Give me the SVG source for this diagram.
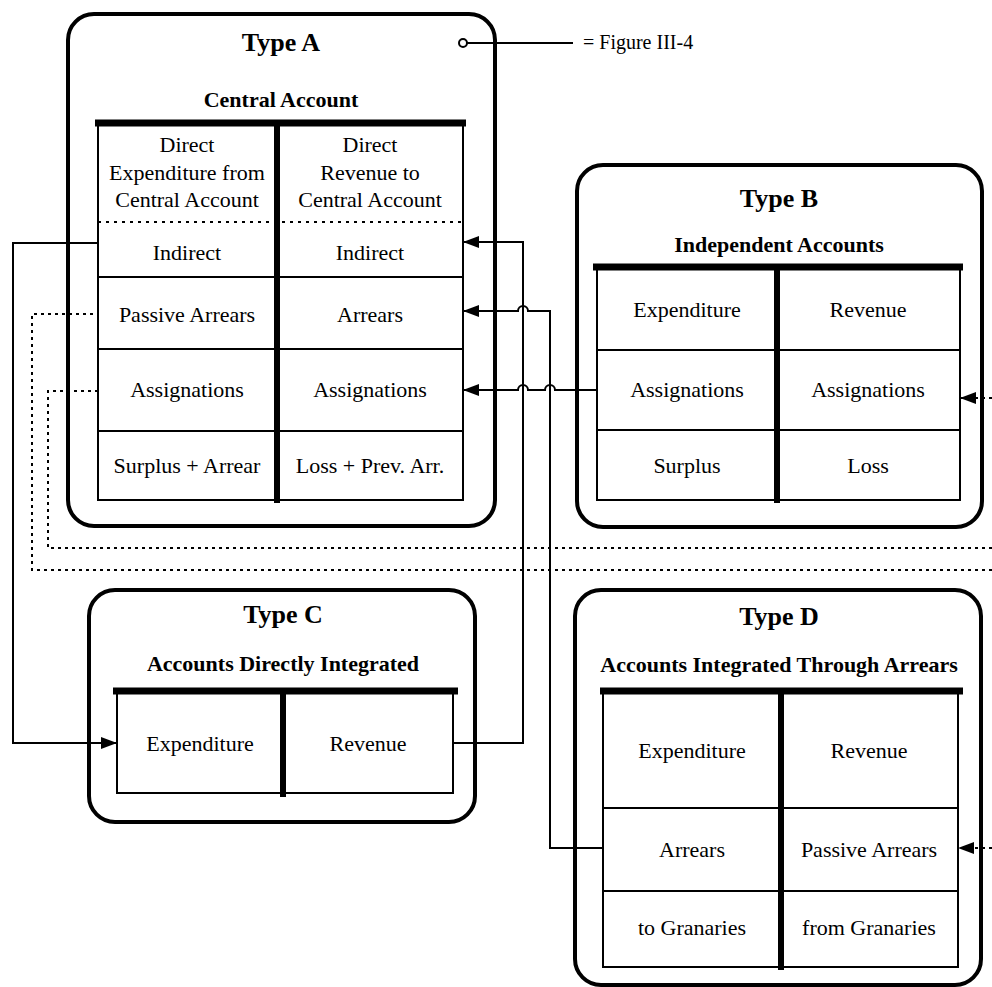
<svg xmlns="http://www.w3.org/2000/svg" width="992" height="987" viewBox="0 0 992 987">
  <style>
    text { font-family: "Liberation Serif", "Times New Roman", serif; fill: #000; text-anchor: middle; }
    .title { font-size: 26px; font-weight: bold; }
    .sub { font-size: 22px; font-weight: bold; }
    .cell { font-size: 22px; }
    .legend { font-size: 20px; text-anchor: start; }
    .frame { fill: none; stroke: #000; stroke-width: 4; }
    .grid { fill: none; stroke: #000; stroke-width: 2; }
    .bar { stroke: #000; stroke-width: 7; }
    .mid { stroke: #000; stroke-width: 6; }
    .sep { stroke: #000; stroke-width: 2; stroke-dasharray: 3 5; }
    .link { fill: none; stroke: #000; stroke-width: 2; }
    .dot { fill: none; stroke: #000; stroke-width: 2; stroke-dasharray: 3 4; }
  </style>
  <defs>
    <marker id="arrow" viewBox="0 0 16 12" refX="16" refY="6" markerWidth="16" markerHeight="12" markerUnits="userSpaceOnUse" orient="auto">
      <path d="M0,0 L16,6 L0,12 Z" fill="#000"/>
    </marker>
  </defs>
  <rect width="992" height="987" fill="#fff"/>

  <!-- Type A: central account -->
  <g id="typeA">
    <rect class="frame" x="68" y="14" width="427" height="512" rx="26"/>
    <text class="title" x="281" y="51">Type A</text>
    <text class="sub" x="281" y="107">Central Account</text>
    <rect class="grid" x="98" y="123" width="365" height="377"/>
    <line class="sep" x1="98" y1="222" x2="463" y2="222"/>
    <line class="grid" x1="98" y1="277" x2="463" y2="277"/>
    <line class="grid" x1="98" y1="349" x2="463" y2="349"/>
    <line class="grid" x1="98" y1="431" x2="463" y2="431"/>
    <line class="bar" x1="95" y1="123" x2="466" y2="123"/>
    <line class="mid" x1="277" y1="120" x2="277" y2="503"/>
    <text class="cell" x="187" y="152">Direct</text>
    <text class="cell" x="187" y="180">Expenditure from</text>
    <text class="cell" x="187" y="207">Central Account</text>
    <text class="cell" x="370" y="152">Direct</text>
    <text class="cell" x="370" y="180">Revenue to</text>
    <text class="cell" x="370" y="207">Central Account</text>
    <text class="cell" x="187" y="260">Indirect</text>
    <text class="cell" x="370" y="260">Indirect</text>
    <text class="cell" x="187" y="322">Passive Arrears</text>
    <text class="cell" x="370" y="322">Arrears</text>
    <text class="cell" x="187" y="397">Assignations</text>
    <text class="cell" x="370" y="397">Assignations</text>
    <text class="cell" x="187" y="473">Surplus + Arrear</text>
    <text class="cell" x="370" y="473">Loss + Prev. Arr.</text>
  </g>

  <!-- Type B: independent accounts -->
  <g id="typeB">
    <rect class="frame" x="577" y="165" width="405" height="362" rx="26"/>
    <text class="title" x="779" y="207">Type B</text>
    <text class="sub" x="779" y="252">Independent Accounts</text>
    <rect class="grid" x="597" y="267" width="363" height="233"/>
    <line class="grid" x1="597" y1="350" x2="960" y2="350"/>
    <line class="grid" x1="597" y1="430" x2="960" y2="430"/>
    <line class="bar" x1="593" y1="267" x2="963" y2="267"/>
    <line class="mid" x1="777" y1="264" x2="777" y2="503"/>
    <text class="cell" x="687" y="317">Expenditure</text>
    <text class="cell" x="868" y="317">Revenue</text>
    <text class="cell" x="687" y="397">Assignations</text>
    <text class="cell" x="868" y="397">Assignations</text>
    <text class="cell" x="687" y="473">Surplus</text>
    <text class="cell" x="868" y="473">Loss</text>
  </g>

  <!-- Type C: accounts directly integrated -->
  <g id="typeC">
    <rect class="frame" x="89" y="590" width="386" height="232" rx="26"/>
    <text class="title" x="283" y="623">Type C</text>
    <text class="sub" x="283" y="671">Accounts Directly Integrated</text>
    <rect class="grid" x="117" y="691" width="336" height="102"/>
    <line class="bar" x1="113" y1="691" x2="458" y2="691"/>
    <line class="mid" x1="283" y1="688" x2="283" y2="797"/>
    <text class="cell" x="200" y="751">Expenditure</text>
    <text class="cell" x="368" y="751">Revenue</text>
  </g>

  <!-- Type D: accounts integrated through arrears -->
  <g id="typeD">
    <rect class="frame" x="575" y="590" width="406" height="395" rx="26"/>
    <text class="title" x="779" y="625">Type D</text>
    <text class="sub" x="779" y="672">Accounts Integrated Through Arrears</text>
    <rect class="grid" x="603" y="691" width="355" height="276"/>
    <line class="grid" x1="603" y1="808" x2="958" y2="808"/>
    <line class="grid" x1="603" y1="891" x2="958" y2="891"/>
    <line class="bar" x1="600" y1="691" x2="963" y2="691"/>
    <line class="mid" x1="781" y1="688" x2="781" y2="970"/>
    <text class="cell" x="692" y="758">Expenditure</text>
    <text class="cell" x="869" y="758">Revenue</text>
    <text class="cell" x="692" y="857">Arrears</text>
    <text class="cell" x="869" y="857">Passive Arrears</text>
    <text class="cell" x="692" y="935">to Granaries</text>
    <text class="cell" x="869" y="935">from Granaries</text>
  </g>

  <!-- legend symbol -->
  <g id="legend">
    <line class="link" x1="467" y1="43" x2="573" y2="43"/>
    <circle cx="463" cy="43" r="4" fill="#fff" stroke="#000" stroke-width="2"/>
    <text class="legend" x="583" y="49">= Figure III-4</text>
  </g>

  <!-- connectors -->
  <g id="connectors">
    <!-- A indirect expenditure to C expenditure -->
    <path class="link" d="M98,243 H13 V743 H117" marker-end="url(#arrow)"/>
    <!-- C revenue to A indirect revenue -->
    <path class="link" d="M453,743 H523 V242 H463" marker-end="url(#arrow)"/>
    <!-- D arrears to A arrears -->
    <path class="link" d="M603,848 H550 V311 H528 A5,5 0 0 0 518,311 H463" marker-end="url(#arrow)"/>
    <!-- B assignations to A assignations -->
    <path class="link" d="M597,390 H555 A5,5 0 0 0 545,390 H528 A5,5 0 0 0 518,390 H463" marker-end="url(#arrow)"/>
    <!-- dotted returns -->
    <path class="dot" d="M992,570 H32 V314 H98"/>
    <path class="dot" d="M992,548 H48 V391 H98"/>
    <path class="dot" d="M992,398 H960" marker-end="url(#arrow)"/>
    <path class="dot" d="M992,848 H958" marker-end="url(#arrow)"/>
  </g>
</svg>
